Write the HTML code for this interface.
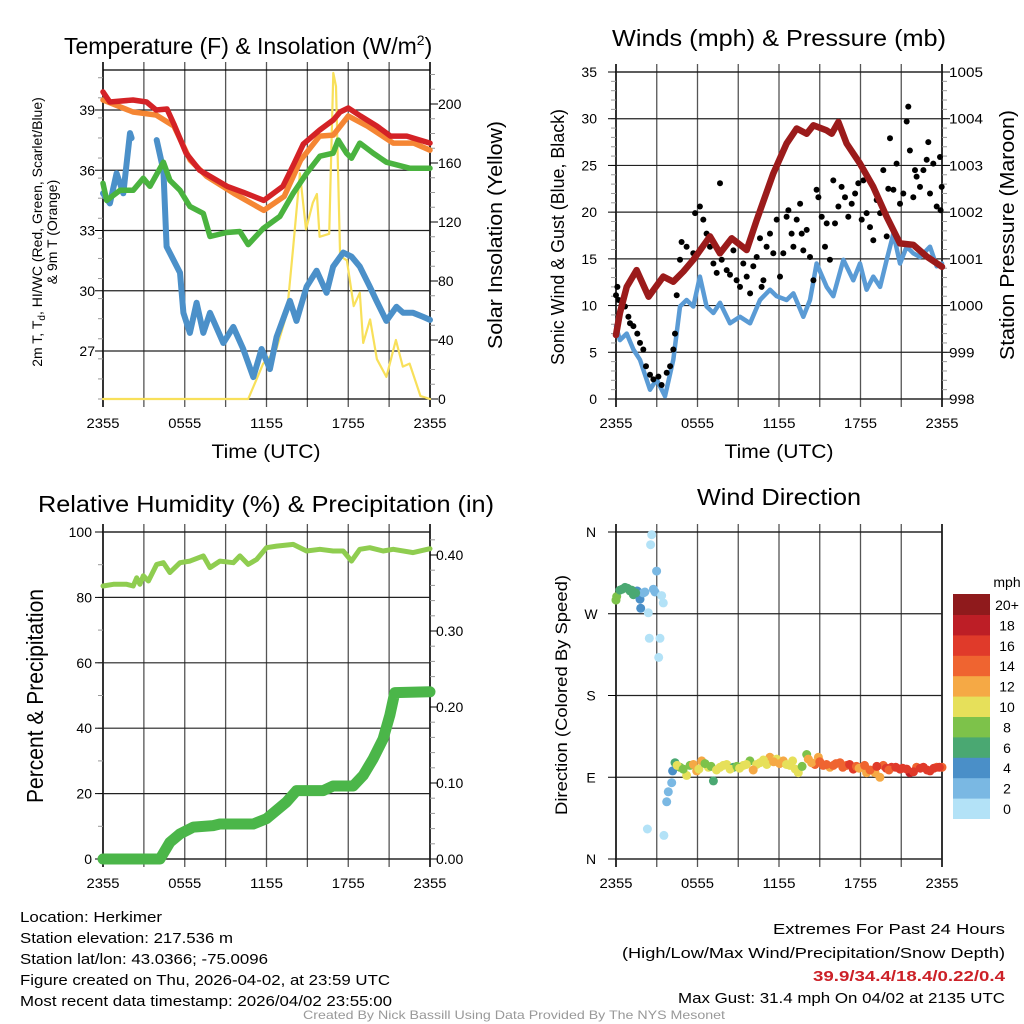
<!DOCTYPE html>
<html><head><meta charset="utf-8"><style>
html,body{margin:0;padding:0;background:#fff;}
svg{display:block;font-family:"Liberation Sans",sans-serif;}
</style></head><body>
<svg id="c" width="1024" height="1024" viewBox="0 0 1024 1024" xmlns="http://www.w3.org/2000/svg">
<g id="layer"></g>
</svg>
<script>
// ---------- DATA ----------
const xTickLabels = ["2355","0555","1155","1755","2355"];
// Panel 1: temperature (F), hours since 2355
const tempHours = [0,0.5,2.2,3.2,3.9,4.7,5.2,6.1,7.1,9.1,10.3,11.8,13.2,14.0,14.7,15.9,16.9,17.4,18.0,18.9,20.1,21.1,22.3,24];
const tempVals  = [39.9,39.4,39.5,39.4,39.0,39.05,38.3,36.85,36.0,35.2,34.9,34.5,35.2,36.3,37.3,38.0,38.5,38.9,39.1,38.7,38.2,37.7,37.7,37.35];
const t9Hours = [0,2.2,3.9,5.2,6.4,7.6,9.6,11.8,13.3,14.5,15.9,16.9,18.0,19.4,21.3,22.8,24];
const t9Vals  = [39.5,38.9,38.75,38.2,36.5,35.7,34.85,34.0,34.7,36.5,37.7,37.75,38.7,38.2,37.35,37.35,37.0];
const hiHours = [0,0.27,1.25,2.22,2.96,3.45,4.43,4.91,5.65,6.38,7.36,7.85,9.07,10.05,10.66,11.76,12.98,13.96,14.94,15.92,16.89,17.26,17.87,18.24,18.85,19.83,20.8,22.5,24];
const hiVals  = [35.35,34.5,35.0,35.0,35.6,35.2,36.4,35.5,35.0,34.2,33.85,32.7,32.9,32.95,32.3,33.1,33.7,34.85,35.85,36.7,36.85,37.5,36.85,36.6,37.35,36.85,36.4,36.1,36.1];
const tdHours1 = [0,0.51,1.0,1.49,1.98,2.1];
const tdVals1  = [34.85,34.35,35.85,34.85,37.85,37.6];
const tdHours2 = [3.94,4.43,4.67,5.65,5.9,6.38,6.87,7.36,7.85,8.83,9.56,10.29,11.03,11.64,12.25,12.74,13.72,14.2,14.94,15.68,16.41,16.89,17.63,18.24,18.85,19.58,20.07,20.8,21.54,22.03,22.76,23.5,24];
const tdVals2  = [37.5,36.0,32.2,30.9,28.9,27.9,29.4,27.9,28.9,27.4,28.2,27.1,25.7,27.1,26.1,27.7,29.5,28.5,30.2,31.0,29.9,31.2,31.9,31.7,31.2,30.2,29.5,28.5,29.2,28.9,28.9,28.7,28.55];
const solHours = [0,10.66,11.76,12.7,13.5,13.96,14.45,14.9,15.4,15.7,15.9,16.6,16.9,17.1,17.4,17.9,18.4,18.85,19.1,19.6,20.1,20.8,21.5,22.0,22.5,23.3,24];
const solVals  = [0,0,24,33,58,103,153,115,133,139,110,112,221,212,97,94,63,72,38,54,27,15,40,22,24,2,0];
// Panel 2: wind, gust, pressure
const presHours = [0,0.29,0.79,1.52,2.4,3.48,4.22,4.96,5.69,6.92,7.66,8.52,9.62,10.36,11.58,12.56,13.3,14.04,14.53,15.51,15.88,16.37,16.98,17.96,18.94,19.93,20.91,21.89,22.87,24];
const presVals  = [999.37,999.84,1000.4,1000.76,1000.19,1000.62,1000.51,1000.73,1000.98,1001.48,1001.12,1001.44,1001.19,1001.83,1002.83,1003.47,1003.79,1003.68,1003.86,1003.75,1003.68,1003.93,1003.47,1003.04,1002.54,1001.9,1001.33,1001.3,1001.05,1000.83];
const windHours = [0,0.29,0.79,1.28,1.77,2.5,2.99,3.61,4.22,4.71,5.2,5.69,6.18,6.67,7.17,7.66,8.39,9.13,9.87,10.6,11.34,11.83,12.56,13.06,13.79,14.28,14.77,15.51,16.0,16.74,17.47,17.96,18.45,18.94,19.44,19.93,20.42,20.91,21.4,21.89,22.38,23.12,23.61,24];
const windVals  = [7.8,6.3,7.0,5.3,4.2,1.0,2.1,0.3,4.2,9.9,10.6,9.9,13.1,9.9,9.2,10.3,8.1,8.8,8.1,10.6,11.7,11.0,10.6,11.3,8.8,10.6,14.5,12.0,11.0,14.9,12.7,14.5,11.7,13.1,12.0,14.9,17.7,14.5,16.3,15.6,15.2,16.3,14.2,14.5];
const gustHours = [0,0.1,0.2,0.42,0.66,0.91,1.03,1.28,1.57,1.77,2.01,2.21,2.5,2.75,3.12,3.36,3.73,3.98,4.22,4.34,4.47,4.71,4.83,5.2,5.69,5.82,6.18,6.43,6.67,6.92,7.17,7.41,7.66,7.78,8.15,8.39,8.64,8.88,9.13,9.37,9.62,9.87,10.11,10.36,10.6,10.72,10.85,11.09,11.34,11.58,11.83,12.07,12.32,12.56,12.69,12.93,13.06,13.3,13.55,13.67,13.79,14.04,14.28,14.53,14.77,14.9,15.14,15.39,15.51,15.75,16.0,16.12,16.37,16.61,16.86,17.1,17.35,17.6,17.84,18.09,18.21,18.45,18.7,18.94,19.19,19.44,19.68,19.93,20.05,20.17,20.42,20.66,20.91,21.15,21.4,21.52,21.64,21.89,22.01,22.13,22.38,22.63,22.87,22.99,23.12,23.36,23.61,23.85,23.98,23.9];
const gustVals  = [11.1,12.0,10.6,10.1,9.9,8.8,8.1,7.8,7.0,6.0,5.3,3.5,2.6,2.1,2.4,1.5,2.8,3.5,5.3,7.0,11.1,14.9,16.8,16.3,15.6,19.9,20.6,19.2,17.7,16.3,14.5,13.5,23.1,14.9,13.8,13.3,15.9,12.7,12.0,14.5,13.1,11.3,14.2,15.2,17.2,12.0,12.7,16.3,17.7,15.6,19.2,13.1,15.6,19.5,20.2,17.7,16.3,19.2,20.9,17.7,15.9,18.1,15.2,12.7,22.4,21.6,19.5,16.3,18.8,14.9,23.4,18.8,20.6,22.7,21.6,19.5,20.9,22.0,23.1,19.2,23.4,19.9,18.4,17.0,21.3,19.9,24.5,17.4,22.5,27.9,22.4,25.2,20.9,22.0,29.7,31.3,26.6,21.6,24.5,23.8,22.7,24.5,25.6,27.5,22.0,25.2,20.6,25.9,22.7,20.2];
// Panel 3: RH and precip
const rhHours = [0,0.76,1.74,2.22,2.47,2.71,2.96,3.33,3.94,4.43,4.91,5.65,6.38,7.36,7.85,8.58,9.56,10.05,10.66,11.27,12.0,12.74,13.96,14.94,15.92,16.89,17.63,18.24,18.85,19.58,20.56,21.3,22.76,24];
const rhVals  = [83.5,84,84,83.5,86,84,86.6,85,90.1,90.6,87.6,90.6,91.1,92.7,89.1,91.1,90.6,92.7,90.1,91.6,95.2,95.7,96.2,94.2,94.7,94.2,94.2,91.1,94.7,95.2,94.2,94.7,93.7,94.9];
const prHours = [0,4.18,4.91,5.65,6.63,8.09,8.58,11.03,12.0,13.47,14.2,16.16,16.89,18.36,19.1,19.83,20.56,21.05,21.42,24];
const prVals  = [0,0,0.022,0.033,0.042,0.044,0.046,0.046,0.053,0.075,0.09,0.09,0.096,0.096,0.11,0.132,0.158,0.189,0.219,0.22];
// Panel 4: wind direction (deg) coloured by speed (mph)
const dirHours = [0,0.05,0.29,0.66,1.03,1.28,1.57,1.77,1.82,2.01,2.13,2.75,2.87,2.63,2.55,2.99,3.36,3.48,2.38,2.45,3.24,3.14,2.31,3.53,3.73,3.85,4.1,4.17,4.34,4.71,5.2,5.45,5.94,6.31,6.8,7.17,7.66,8.15,8.64,9.37,9.86,10.35,11.33,11.83,12.32,12.81,13.42,14.04,14.16,14.65,15.26,15.75,16.49,16.98,17.47,18.09,18.45,19.07,19.43,19.68,20.29,20.91,21.64,22.13,22.63,23.12,23.61,24,
  0.45,0.85,1.15,1.45,4.5,4.95,5.7,6.1,6.55,7.0,7.4,7.9,8.4,8.9,9.1,9.6,10.1,10.6,10.85,11.1,11.6,12.05,12.55,13.0,13.2,13.7,14.4,14.9,15.0,15.5,16.0,16.2,16.7,17.2,17.7,17.9,18.3,18.7,19.2,19.9,20.1,20.6,21.1,21.4,21.9,22.4,22.9,23.4,23.8];
const dirVals  = [285,289,296,299,295,291,295,286,276,293,294,297,294,357,346,317,290,282,271,243,243,222,33,26,63,74,84,97,106,101,92,103,97,108,101,86,101,104,101,103,108,104,112,110,108,103,95,115,110,104,103,101,106,103,99,101,95,95,90,103,101,99,95,101,101,97,101,101,
  297,298,296,293,103,99,104,99,105,102,98,103,99,102,100,104,98,106,109,104,107,105,104,108,99,102,106,112,107,104,103,105,101,104,102,100,103,98,102,100,98,101,100,99,96,100,98,100,101];
const dirSpeed = [8,9,7,7,6,6,5,4,4,3,2,3,3,1,1,3,1,1,1,1,1,1,1,1,2,2,3,4,6,9,10,8,12,12,10,7,10,10,7,10,8,10,12,10,12,10,10,8,12,14,14,13,14,14,17,14,12,13,12,14,16,16,19,15,16,16,15,15,
  7,6,6,6,10,9,12,10,9,8,10,11,10,9,11,10,12,11,10,11,12,13,11,10,10,9,12,13,14,15,14,15,14,16,15,13,15,14,16,17,15,16,17,16,17,16,17,16,16];
const cbLabels = ["0","2","4","6","8","10","12","14","16","18","20+"];
const cbColors = ["#b3e2f7","#7ab8e3","#4a8fc8","#4aa872","#7dc24a","#e6e05a","#f5a945","#ef6430","#e03a2a","#bd1e26","#8f1a1c"];

// ---------- HELPERS ----------
const NS = "http://www.w3.org/2000/svg";
const root = document.getElementById("layer");
function mk(tag, attrs, parent){
  const e = document.createElementNS(NS, tag);
  for (const k in attrs) e.setAttribute(k, attrs[k]);
  (parent || root).appendChild(e);
  return e;
}
function txt(s, x, y, size, anchor, extra, name){
  const t = mk("text", Object.assign({x:x, y:y, "font-size":size, "text-anchor":anchor||"start", fill:"#000"}, extra||{}));
  t.textContent = s;
  
  
  return t;
}
function scale(d0, d1, r0, r1){ return v => r0 + (v - d0) * (r1 - r0) / (d1 - d0); }
function pathFrom(hs, vs, xs, ys){
  let d = "";
  for (let i = 0; i < hs.length; i++) d += (i ? "L" : "M") + xs(hs[i]).toFixed(1) + " " + ys(vs[i]).toFixed(1);
  return d;
}
function line(hs, vs, xs, ys, color, w, name){
  const p = mk("path", {d: pathFrom(hs, vs, xs, ys), fill:"none", stroke:color, "stroke-width":w, "stroke-linejoin":"round", "stroke-linecap":"round"});
  
  
  return p;
}
function frame(x0, x1, yT, yB, name){
  const g = mk("g", {});
  
  
  for (let i = 0; i <= 8; i++){
    const x = x0 + (x1 - x0) * i / 8;
    mk("line", {x1:x, x2:x, y1:yT - 8, y2:yB + 8, stroke: (i===0||i===8)?"#000":"#555", "stroke-width": (i===0||i===8)?1.6:1.3}, g);
  }
  mk("line", {x1:x0, x2:x1, y1:yT, y2:yT, stroke:"#000", "stroke-width":1.3}, g);
  mk("line", {x1:x0, x2:x1, y1:yB, y2:yB, stroke:"#000", "stroke-width":1.3}, g);
  return g;
}
function hgrid(x0, x1, y){
  mk("line", {x1:x0, x2:x1, y1:y, y2:y, stroke:"#222", "stroke-width":1.2});
}
function xLabels(x0, x1, y){
  xTickLabels.forEach((s, i) => {
    txt(s, x0 + (x1 - x0) * i / 4, y, 14, "middle", {textLength:33, lengthAdjust:"spacingAndGlyphs"}, "x-tick-label");
  });
}
function minorTicks(x, yTop, yBot, step, dir, len){
  for (let y = yBot; y >= yTop - 0.1; y -= step) mk("line", {x1:x, x2:x + dir*len, y1:y, y2:y, stroke:"#999", "stroke-width":1});
}
function rtext(s, cx, cy, size, len, name){
  return txt(s, 0, 0, size, "middle", {transform:`translate(${cx},${cy}) rotate(-90)`, textLength:len, lengthAdjust:"spacingAndGlyphs"}, name);
}

// ---------- PANEL 1 ----------
(function(){
  const x0 = 103, x1 = 430, yT = 70, yB = 399;
  const xs = scale(0, 24, x0, x1);
  const ys = scale(39, 27, 110, 351);
  const ysR = scale(0, 200, 399, 104);
  frame(x0, x1, yT, yB, "temperature-panel-frame");
  minorTicks(x0, yT, yB, 20.08, -1, 5);
  minorTicks(x1, yT, yB, (ysR(0)-ysR(10)), 1, 5);
  [27,30,33,36,39].forEach(v => { hgrid(x0, x1, ys(v)); mk("line",{x1:x0-8,x2:x0,y1:ys(v),y2:ys(v),stroke:"#000"}); txt(String(v), 95, ys(v)+5, 14, "end", null, "y-tick-label"); });
  [0,40,80,120,160,200].forEach(v => { mk("line",{x1:x1,x2:x1+8,y1:ysR(v),y2:ysR(v),stroke:"#000"}); txt(String(v), 438, ysR(v)+5, 14, "start", null, "y2-tick-label"); });
  line(solHours, solVals, xs, ysR, "#f8e05a", 2.2, "solar-insolation-line");
  line(tdHours1, tdVals1, xs, ys, "#4b90c9", 6, "dewpoint-line");
  line(tdHours2, tdVals2, xs, ys, "#4b90c9", 6, "dewpoint-line");
  line(hiHours, hiVals, xs, ys, "#4ab33f", 5.5, "heat-index-line");
  line(t9Hours, t9Vals, xs, ys, "#f58634", 5.5, "temp-9m-line");
  line(tempHours, tempVals, xs, ys, "#d42226", 5.5, "temp-2m-line");
  const title = txt("Temperature (F) & Insolation (W/m", 64, 54, 23, "start", null, "temperature-panel-title");
  const sup = mk("tspan", {dy:-9, "font-size":14}, title); sup.textContent = "2";
  const cl = mk("tspan", {dy:9, "font-size":23}, title); cl.textContent = ")";
  xLabels(x0, x1, 428);
  txt("Time (UTC)", 266, 458, 19, "middle", {textLength:109, lengthAdjust:"spacingAndGlyphs"}, "x-axis-title");
  const lt = txt("", 0, 0, 14, "middle", {transform:"translate(42,232) rotate(-90)"}, "y-axis-title");
  lt.innerHTML = '<tspan x="0">2m T, T<tspan font-size="10" dy="3">d</tspan><tspan dy="-3">, HI/WC (Red, Green, Scarlet/Blue)</tspan></tspan><tspan x="0" dy="15">&amp; 9m T (Orange)</tspan>';
  rtext("Solar Insolation (Yellow)", 502, 235, 20, 228, "y2-axis-title");
})();

// ---------- PANEL 2 ----------
(function(){
  const x0 = 616, x1 = 942, yT = 72, yB = 399;
  const xs = scale(0, 24, x0, x1);
  const ys = scale(0, 35, 399, 72);
  const ysP = scale(998, 1005, 399, 72);
  frame(x0, x1, yT, yB, "wind-panel-frame");
  minorTicks(x0, yT, yB, ys(0)-ys(1), -1, 5);
  minorTicks(x1, yT, yB, ysP(998)-ysP(998.2), 1, 5);
  [0,5,10,15,20,25,30,35].forEach(v => { hgrid(x0, x1, ys(v)); mk("line",{x1:x0-8,x2:x0,y1:ys(v),y2:ys(v),stroke:"#000"}); txt(String(v), 597, ys(v)+5, 14, "end", null, "y-tick-label"); });
  [998,999,1000,1001,1002,1003,1004,1005].forEach(v => { mk("line",{x1:x1,x2:x1+8,y1:ysP(v),y2:ysP(v),stroke:"#000"}); const s=String(v); txt(s, 949, ysP(v)+5, 14, "start", {textLength: s.length*8.5, lengthAdjust:"spacingAndGlyphs"}, "y2-tick-label"); });
  line(windHours, windVals, xs, ys, "#5a9bd5", 4.5, "sonic-wind-line");
  for (let i = 0; i < gustHours.length; i++){
    const c = mk("circle", {cx:xs(gustHours[i]).toFixed(1), cy:ys(gustVals[i]).toFixed(1), r:3, fill:"#000"});
    
    
  }
  line(presHours, presVals, xs, ysP, "#9b1b1b", 6.5, "pressure-line");
  txt("Winds (mph) & Pressure (mb)", 779, 46, 23, "middle", {textLength:334, lengthAdjust:"spacingAndGlyphs"}, "wind-panel-title");
  xLabels(x0, x1, 428);
  txt("Time (UTC)", 779, 458, 19, "middle", {textLength:109, lengthAdjust:"spacingAndGlyphs"}, "x-axis-title");
  rtext("Sonic Wind & Gust (Blue, Black)", 564, 237, 18, 256, "y-axis-title");
  rtext("Station Pressure (Maroon)", 1014, 235, 20, 250, "y2-axis-title");
})();

// ---------- PANEL 3 ----------
(function(){
  const x0 = 103, x1 = 430, yT = 532, yB = 859;
  const xs = scale(0, 24, x0, x1);
  const ys = scale(0, 100, 859, 532);
  const ysR = scale(0, 0.1, 859, 783);
  frame(x0, x1, yT, yB, "humidity-panel-frame");
  minorTicks(x0, yT, yB, ys(0)-ys(10), -1, 5);
  minorTicks(x1, yT, yB, ysR(0)-ysR(0.02), 1, 5);
  [0,20,40,60,80,100].forEach(v => { hgrid(x0, x1, ys(v)); mk("line",{x1:x0-8,x2:x0,y1:ys(v),y2:ys(v),stroke:"#000"}); txt(String(v), 92, ys(v)+5, 14, "end", null, "y-tick-label"); });
  [0,0.1,0.2,0.3,0.4].forEach(v => { mk("line",{x1:x1,x2:x1+8,y1:ysR(v),y2:ysR(v),stroke:"#000"}); txt(v.toFixed(2), 436, ysR(v)+5, 14, "start", null, "y2-tick-label"); });
  line(rhHours, rhVals, xs, ys, "#8fcd50", 5, "relative-humidity-line");
  line(prHours, prVals, xs, ysR, "#4bb649", 11, "precipitation-line");
  txt("Relative Humidity (%) & Precipitation (in)", 266, 512, 23, "middle", {textLength:456, lengthAdjust:"spacingAndGlyphs"}, "humidity-panel-title");
  xLabels(x0, x1, 888);
  rtext("Percent & Precipitation", 43, 696, 23, 214, "y-axis-title");
})();

// ---------- PANEL 4 ----------
(function(){
  const x0 = 616, x1 = 942, yT = 532, yB = 859;
  const xs = scale(0, 24, x0, x1);
  const ys = scale(0, 360, 859, 532);
  frame(x0, x1, yT, yB, "direction-panel-frame");
  [["N",360],["W",270],["S",180],["E",90],["N",0]].forEach(p => { hgrid(x0, x1, ys(p[1])); mk("line",{x1:x0-8,x2:x0,y1:ys(p[1]),y2:ys(p[1]),stroke:"#000"}); txt(p[0], 591, ys(p[1])+5, 14, "middle", null, "y-tick-label"); });
  for (let i = 0; i < dirHours.length; i++){
    const b = Math.min(10, Math.floor(dirSpeed[i] / 2));
    const c = mk("circle", {cx:xs(dirHours[i]).toFixed(1), cy:ys(dirVals[i]).toFixed(1), r:4.5, fill:cbColors[b]});
    
    
  }
  txt("Wind Direction", 779, 505, 23, "middle", {textLength:164, lengthAdjust:"spacingAndGlyphs"}, "direction-panel-title");
  xLabels(x0, x1, 888);
  rtext("Direction (Colored By Speed)", 567, 695, 17, 240, "y-axis-title");
  const cbTop = 594, cbH = 20.4;
  cbColors.forEach((col, i) => {
    const y = cbTop + (10 - i) * cbH;
    const r = mk("rect", {x:953, y:y.toFixed(1), width:37, height:cbH+0.6, fill:col});
    
    
    txt(cbLabels[i], 1007, y + 16, 14, "middle", null, "colorbar-label");
  });
  txt("mph", 1007, 587, 14, "middle", null, "colorbar-title");
})();

// ---------- FOOTER ----------
const leftLines = [["Location: Herkimer",142],["Station elevation: 217.536 m",213],["Station lat/lon: 43.0366; -75.0096",248],["Figure created on Thu, 2026-04-02, at 23:59 UTC",370],["Most recent data timestamp: 2026/04/02 23:55:00",372]];
leftLines.forEach((l, i) => txt(l[0], 20, 922 + i*21, 15, "start", {textLength:l[1], lengthAdjust:"spacingAndGlyphs"}, "station-info-line"));
txt("Extremes For Past 24 Hours", 1005, 934, 15, "end", {textLength:232, lengthAdjust:"spacingAndGlyphs"}, "extremes-heading");
txt("(High/Low/Max Wind/Precipitation/Snow Depth)", 1005, 958, 15, "end", {textLength:383, lengthAdjust:"spacingAndGlyphs"}, "extremes-legend");
txt("39.9/34.4/18.4/0.22/0.4", 1005, 981, 15, "end", {textLength:192, lengthAdjust:"spacingAndGlyphs", fill:"#cc2128", "font-weight":"bold"}, "extremes-values");
txt("Max Gust: 31.4 mph On 04/02 at 2135 UTC", 1005, 1003, 15, "end", {textLength:327, lengthAdjust:"spacingAndGlyphs"}, "max-gust");
txt("Created By Nick Bassill Using Data Provided By The NYS Mesonet", 514, 1019, 12, "middle", {textLength:422, lengthAdjust:"spacingAndGlyphs", fill:"#999"}, "credit-line");
</script>
</body></html>
